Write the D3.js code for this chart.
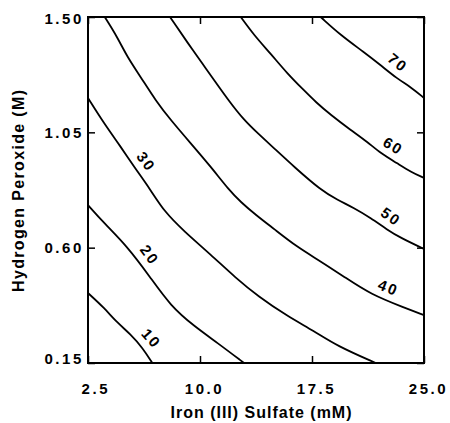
<!DOCTYPE html>
<html>
<head>
<meta charset="utf-8">
<script src="https://cdn.jsdelivr.net/npm/d3@7"></script>
<style>
  body { margin: 0; background: #fff; }
  svg text { font-family: "Liberation Sans", Arial, sans-serif; font-weight: bold; fill: #000; }
</style>
</head>
<body>
<div id="chart"></div>
<script>
// axis ticks
var ironTicks = [2.5, 10.0, 17.5, 25.0];
var peroxideTicks = [0.15, 0.60, 1.05, 1.50];

// contour levels and their traced lines, [iron (mM), peroxide (M)]
var levels = [10, 20, 30, 40, 50, 60, 70];
var line10 = [[2.50,0.423],[3.57,0.366],[4.46,0.307],[5.36,0.262],[6.14,0.210],[6.81,0.150]];
var line20 = [[2.50,0.766],[3.57,0.696],[5.13,0.605],[6.65,0.486],[8.04,0.372],[9.60,0.294],[11.16,0.229],[12.95,0.150]];
var line30 = [[2.50,1.184],[3.57,1.085],[4.69,0.994],[5.58,0.916],[6.70,0.825],[7.59,0.742],[8.93,0.664],[10.72,0.573],
              [12.39,0.482],[13.88,0.411],[15.85,0.333],[17.63,0.275],[19.19,0.216],[21.77,0.150]];
var line40 = [[3.62,1.500],[4.46,1.422],[5.13,1.344],[6.03,1.266],[7.05,1.172],[8.04,1.098],[9.38,1.007],[10.72,0.916],
              [11.94,0.825],[12.73,0.778],[13.75,0.727],[14.96,0.673],[16.49,0.603],[18.08,0.547],[19.76,0.482],
              [21.43,0.418],[23.66,0.366],[25.00,0.337]];
var line50 = [[7.99,1.500],[9.60,1.363],[10.72,1.273],[11.94,1.172],[12.95,1.098],[13.88,1.046],[14.96,0.988],[16.29,0.916],
              [18.08,0.825],[19.19,0.787],[20.31,0.755],[21.43,0.716],[22.54,0.670],[23.44,0.638],[25.00,0.595]];
var line60 = [[12.73,1.500],[13.62,1.429],[14.73,1.357],[15.85,1.279],[16.96,1.214],[17.75,1.168],[18.75,1.118],
              [20.09,1.059],[21.20,1.013],[22.10,0.968],[23.21,0.929],[24.11,0.896],[25.00,0.872]];
var line70 = [[18.08,1.500],[19.42,1.429],[20.98,1.363],[22.10,1.312],[23.21,1.259],[24.11,1.227],[25.00,1.184]];
// iron value along each line where its label sits
var labelIron = [6.1, 5.94, 5.7, 22.3, 22.3, 22.5, 22.7];

var contourLines = [line10, line20, line30, line40, line50, line60, line70];

var width = 450, height = 423;
var margin = {top: 17, right: 26, bottom: 60, left: 88};
var plotW = width - margin.left - margin.right;
var plotH = height - margin.top - margin.bottom;

var x = d3.scaleLinear().domain([2.5, 25]).range([0, plotW]);
var y = d3.scaleLinear().domain([0.15, 1.5]).range([plotH, 0]);

var svg = d3.select("#chart").append("svg")
    .attr("width", width)
    .attr("height", height);

var g = svg.append("g")
    .attr("transform", "translate(" + margin.left + "," + margin.top + ")");

// contour lines
var line = d3.line()
    .x(function(d) { return x(d[0]); })
    .y(function(d) { return y(d[1]); })
    .curve(d3.curveBasis);

g.selectAll(".contour")
    .data(contourLines)
  .enter().append("path")
    .attr("class", "contour")
    .attr("d", line)
    .attr("fill", "none")
    .attr("stroke", "#000")
    .attr("stroke-width", 1.8);

// labels sit just above/right of the line, rotated along it
function labelPos(pts, v) {
  var i = 0;
  while (i < pts.length - 2 && pts[i + 1][0] < v) i++;
  var x0 = x(pts[i][0]), y0 = y(pts[i][1]);
  var x1 = x(pts[i + 1][0]), y1 = y(pts[i + 1][1]);
  var t = (x(v) - x0) / (x1 - x0);
  var px = x0 + t * (x1 - x0), py = y0 + t * (y1 - y0);
  var ang = Math.atan2(y1 - y0, x1 - x0);
  var off = 13;
  return {x: px + off * Math.sin(ang), y: py - off * Math.cos(ang), a: ang * 180 / Math.PI};
}

g.selectAll(".clabel")
    .data(levels)
  .enter().append("text")
    .attr("class", "clabel")
    .attr("transform", function(d, i) {
      var p = labelPos(contourLines[i], labelIron[i]);
      return "translate(" + p.x + "," + p.y + ")rotate(" + p.a + ")";
    })
    .attr("text-anchor", "middle")
    .attr("dominant-baseline", "central")
    .style("font-size", "15px")
    .style("letter-spacing", "2px")
    .text(function(d) { return d; });

// axes, ticks pointing inward on all four sides
var fmtX = d3.format("4.1f");
var fmtY = d3.format(".2f");

var xAxis = g.append("g")
    .attr("transform", "translate(0," + plotH + ")")
    .call(d3.axisBottom(x).tickValues(ironTicks).tickSizeInner(-7).tickSizeOuter(0)
      .tickPadding(20).tickFormat(fmtX));
xAxis.selectAll("text")
    .attr("dx", 4)
    .style("white-space", "pre")
    .style("font-size", "15px")
    .style("letter-spacing", "2.6px");

var yAxis = g.append("g")
    .call(d3.axisLeft(y).tickValues(peroxideTicks).tickSizeInner(-7).tickSizeOuter(0)
      .tickPadding(4).tickFormat(fmtY));
// end labels pulled slightly inside the frame corners
yAxis.selectAll("text")
    .attr("y", function(d) { return d === 1.5 ? 2 : (d === 0.15 ? -4 : 0); })
    .style("font-size", "15px")
    .style("letter-spacing", "2.6px");

g.append("g")
    .call(d3.axisTop(x).tickValues(ironTicks).tickSizeInner(-7).tickSizeOuter(0).tickFormat(""));
g.append("g")
    .attr("transform", "translate(" + plotW + ",0)")
    .call(d3.axisRight(y).tickValues(peroxideTicks).tickSizeInner(-7).tickSizeOuter(0).tickFormat(""));

g.selectAll(".domain").remove();
g.selectAll(".tick line").attr("stroke", "#000").attr("stroke-width", 1.5);

// frame
g.append("rect")
    .attr("width", plotW)
    .attr("height", plotH)
    .attr("fill", "none")
    .attr("stroke", "#000")
    .attr("stroke-width", 2);

// axis titles
svg.append("text")
    .attr("x", margin.left + plotW / 2 + 5)
    .attr("y", 418)
    .attr("text-anchor", "middle")
    .attr("textLength", 181)
    .attr("lengthAdjust", "spacing")
    .style("font-size", "16px")
    .text("Iron (III) Sulfate (mM)");

svg.append("text")
    .attr("transform", "translate(24," + (margin.top + plotH / 2 + 1) + ")rotate(-90)")
    .attr("text-anchor", "middle")
    .attr("textLength", 202)
    .attr("lengthAdjust", "spacing")
    .style("font-size", "16px")
    .text("Hydrogen Peroxide (M)");
</script>
</body>
</html>
